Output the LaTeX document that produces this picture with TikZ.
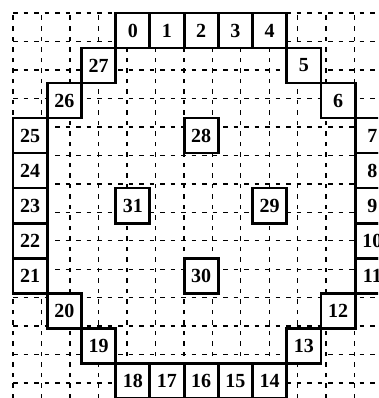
\documentclass[tikz,border=0pt]{standalone}
\usepackage{fontspec}
\setmainfont{Liberation Serif}
\usetikzlibrary{positioning}

\begin{document}
\begin{tikzpicture}[x=34.2pt,y=-35pt,
  cell/.style={draw=black,fill=white,line width=2.8pt,minimum width=34.2pt,minimum height=35pt,inner sep=0pt,font=\bfseries\fontsize{20}{20}\selectfont},
  gridline/.style={line width=1.4pt,dash pattern=on 4.5pt off 6pt}]
\useasboundingbox (-0.38,-0.371) rectangle (10.673,10.994);
\clip (-0.38,-0.371) rectangle (10.673,10.994);
\draw[gridline] (0,0) grid (11,11);
% top row
\node[cell] (p0) at (3.5,0.5) {0};
\node[cell] (p1) at (4.5,0.5) {1};
\node[cell] (p2) at (5.5,0.5) {2};
\node[cell] (p3) at (6.5,0.5) {3};
\node[cell] (p4) at (7.5,0.5) {4};
% right side
\node[cell] (p5) at (8.5,1.5) {5};
\node[cell] (p6) at (9.5,2.5) {6};
\node[cell] (p7) at (10.5,3.5) {7};
\node[cell] (p8) at (10.5,4.5) {8};
\node[cell] (p9) at (10.5,5.5) {9};
\node[cell] (p10) at (10.5,6.5) {10};
\node[cell] (p11) at (10.5,7.5) {11};
\node[cell] (p12) at (9.5,8.5) {12};
\node[cell] (p13) at (8.5,9.5) {13};
% bottom row
\node[cell] (p14) at (7.5,10.5) {14};
\node[cell] (p15) at (6.5,10.5) {15};
\node[cell] (p16) at (5.5,10.5) {16};
\node[cell] (p17) at (4.5,10.5) {17};
\node[cell] (p18) at (3.5,10.5) {18};
% left side
\node[cell] (p19) at (2.5,9.5) {19};
\node[cell] (p20) at (1.5,8.5) {20};
\node[cell] (p21) at (0.5,7.5) {21};
\node[cell] (p22) at (0.5,6.5) {22};
\node[cell] (p23) at (0.5,5.5) {23};
\node[cell] (p24) at (0.5,4.5) {24};
\node[cell] (p25) at (0.5,3.5) {25};
\node[cell] (p26) at (1.5,2.5) {26};
\node[cell] (p27) at (2.5,1.5) {27};
% inner cells
\node[cell] (p28) at (5.5,3.5) {28};
\node[cell] (p29) at (7.5,5.5) {29};
\node[cell] (p30) at (5.5,7.5) {30};
\node[cell] (p31) at (3.5,5.5) {31};
\end{tikzpicture}
\end{document}
